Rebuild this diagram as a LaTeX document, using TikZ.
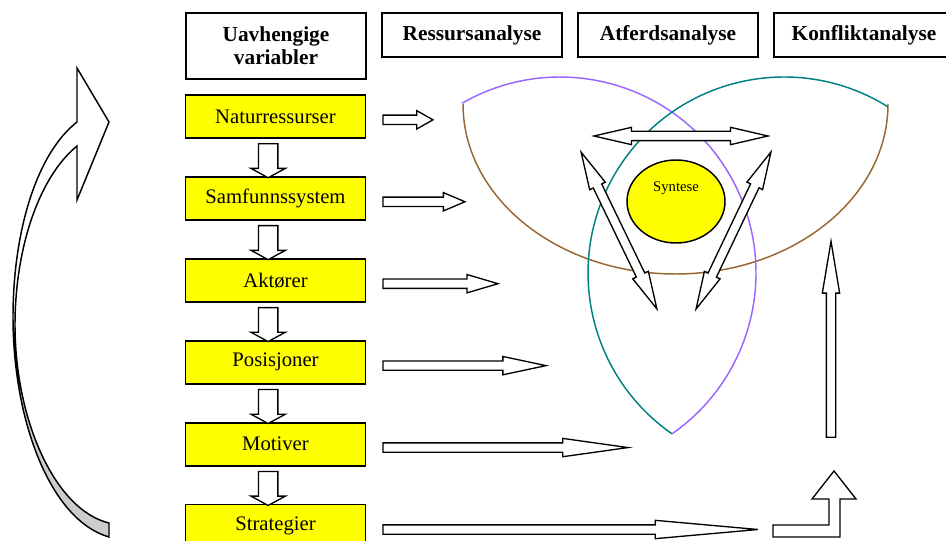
\documentclass[tikz,border=0pt]{standalone}
\usepackage{fontspec}
\setmainfont{Liberation Serif}
\usepackage{tikz}
\usetikzlibrary{shapes.geometric, shapes.arrows, positioning, calc}

\definecolor{boxyellow}{RGB}{255,255,0}
\definecolor{arcbrown}{RGB}{153,102,51}
\definecolor{arcpurple}{RGB}{153,102,255}
\definecolor{arcteal}{RGB}{0,128,128}
\definecolor{shadegray}{RGB}{204,204,204}

\begin{document}
\begin{tikzpicture}[x=0.75pt, y=-0.75pt, node distance=28pt, font=\fontsize{15.5}{18.5}\selectfont]
        \tikzstyle{headbox} = [draw, line width=1.2pt, rectangle, align=center, inner sep=0pt, minimum width=135pt, font=\fontsize{16}{17.5}\selectfont\bfseries]
        \tikzstyle{varbox} = [draw, line width=1.2pt, rectangle, fill=boxyellow, minimum width=135pt, minimum height=32.25pt, inner sep=0pt]
        \tikzstyle{rarrow} = [draw, line width=1pt, fill=white, single arrow, inner ysep=3pt, inner xsep=0pt, single arrow head extend=3.375pt]
        \tikzstyle{darrow} = [draw, line width=1pt, fill=white, single arrow, rotate=-90, inner ysep=6.75pt, inner xsep=0pt, single arrow head extend=5.625pt, single arrow tip angle=123, minimum height=25.5pt]
        \tikzstyle{dblarrow} = [draw, line width=1pt, fill=white, double arrow, inner ysep=3pt, inner xsep=0pt, double arrow head extend=3pt, double arrow tip angle=26, minimum height=130.5pt]

        \useasboundingbox (0,0) rectangle (946,541);

        % Overskrifter
        \node [headbox, minimum height=49.5pt] (hvar) at (276,46) {Uavhengige\\variabler};
        \node [headbox, minimum height=33pt] (hres) at (472,35) {Ressursanalyse};
        \node [headbox, minimum height=33pt] (hatf) at (668,35) {Atferdsanalyse};
        \node [headbox, minimum height=33pt] (hkon) at (864,35) {Konfliktanalyse};

        % Uavhengige variabler
        \node [varbox] (natur) at (275.5,116.5) {Naturressurser};
        \node [varbox, below=of natur] (samf) {Samfunnssystem};
        \node [varbox, below=of samf] (akt) {Aktører};
        \node [varbox, below=of akt] (pos) {Posisjoner};
        \node [varbox, below=of pos] (mot) {Motiver};
        \node [varbox, below=of mot] (strat) {Strategier};

        % rotate=-90 gjelder først, derfor yshift for sideforskyvning
        \foreach \a/\b [count=\i] in {natur/samf, samf/akt, akt/pos, pos/mot, mot/strat}
            \node [darrow, below=3.2pt of \a, anchor=tail, yshift=-5.5pt] (down\i) {};

        \foreach \n/\len/\ang [count=\i] in {natur/50/59, samf/82/46, akt/115/33, pos/163/24, mot/245/16, strat/375/10.2}
            \node [rarrow, minimum height=0.75pt*\len, single arrow tip angle=\ang, right=12pt of \n, anchor=tail, yshift=-2.5pt] (right\i) {};

        % Tre buer
        \draw [arcbrown, line width=1.1pt] (463,104) arc [start angle=180, end angle=0, x radius=212.5, y radius=170];
        \draw [arcpurple, line width=1.1pt] (462,103.3) arc [start angle=-120, end angle=55.1, radius=196];
        \draw [arcteal, line width=1.1pt] (887.9,106.8) arc [start angle=-58, end angle=-235.1, radius=196];

        % Syntese
        \node [draw, line width=1.1pt, ellipse, fill=boxyellow, minimum width=73.5pt, minimum height=62.25pt, inner sep=0pt] (syn) at (676,201.5) {};
        \node [font=\fontsize{11}{13}\selectfont] (syntxt) at (676,188) {Syntese};

        \node [dblarrow] (dtop) at (681,136) {};
        \node [dblarrow, rotate=-64.2] (dleft) at (619,230.5) {};
        \node [dblarrow, rotate=64.5] (dright) at (733.5,230.5) {};

        % Konflikt
        \node [draw, line width=1pt, fill=white, single arrow, rotate=90, anchor=tail, minimum height=147pt, inner ysep=3pt, inner xsep=0pt, single arrow head extend=3pt, single arrow tip angle=19] (up) at (831,438) {};
        \draw [line width=1pt, fill=white] (773,525) -- (829,525) -- (829,499) -- (812,499) -- (834,471) -- (856,499) -- (840,499) -- (840,537) -- (773,537) -- cycle;

        % Tilbakekobling
        \fill [shadegray] (13,317) .. controls (13,420) and (50,520) .. (109,537) -- (109,523) .. controls (55,510) and (15,420) .. (15,325) -- cycle;
        \draw [line width=1.1pt] (77,146) -- (77,200) -- (109,122) -- (77,68) -- (77,122) .. controls (35,155) and (13,235) .. (13,317) .. controls (13,420) and (50,520) .. (109,537) -- (109,523) .. controls (55,510) and (15,420) .. (15,325) .. controls (15,250) and (38,178) .. (77,146) -- cycle;

\end{tikzpicture}
\end{document}
